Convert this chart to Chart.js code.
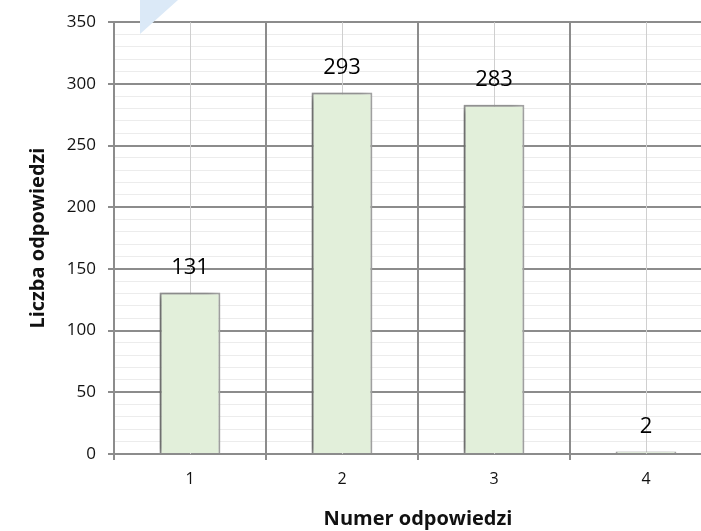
<!DOCTYPE html>
<html>
<head>
<meta charset="utf-8">
<script src="https://cdn.jsdelivr.net/npm/chart.js@4.4.1/dist/chart.umd.min.js"></script>
<style>
  html,body{margin:0;padding:0;background:#fff;overflow:hidden;}
  #wrap{position:relative;width:740px;height:531px;}
</style>
</head>
<body>
<div id="wrap"><canvas id="c" width="740" height="531"></canvas></div>
<script>
// data
const categories = ['1','2','3','4'];
const answerCounts = [131, 293, 283, 2];
const yTicks = [0, 50, 100, 150, 200, 250, 300, 350];

const FONT = '"Open Sans", "Noto Sans", sans-serif';

// light blue triangle in the top-left corner
const cornerMark = {
  id:'cornerMark',
  afterDraw(chart){
    const ctx = chart.ctx;
    ctx.save();
    ctx.fillStyle = '#dbe9f7';
    ctx.beginPath();
    ctx.moveTo(140,0); ctx.lineTo(178,0); ctx.lineTo(140,34); ctx.closePath();
    ctx.fill();
    ctx.restore();
  }
};

// thin lines through category centres + bar shadow + value labels
const extras = {
  id:'extras',
  beforeDatasetsDraw(chart){
    const ctx = chart.ctx, x = chart.scales.x, a = chart.chartArea;
    ctx.save();
    ctx.strokeStyle = '#cfcfcf';
    ctx.lineWidth = 1;
    categories.forEach((c,i)=>{
      const px = Math.round(x.getPixelForValue(i)) + 0.5;
      ctx.beginPath(); ctx.moveTo(px,a.top); ctx.lineTo(px,a.bottom); ctx.stroke();
    });
    ctx.restore();
    ctx.save();
    ctx.shadowColor = 'rgba(0,0,0,0.4)';
    ctx.shadowBlur = 8;
    ctx.shadowOffsetX = -5;
    ctx.shadowOffsetY = 1;
  },
  afterDatasetsDraw(chart){
    const ctx = chart.ctx;
    ctx.restore();
    ctx.save();
    ctx.font = '22px ' + FONT;
    ctx.fillStyle = '#000';
    ctx.textAlign = 'center';
    ctx.textBaseline = 'middle';
    chart.getDatasetMeta(0).data.forEach((bar,i)=>{
      ctx.fillText(String(answerCounts[i]), bar.x, bar.y - 25);
    });
    ctx.restore();
  }
};

new Chart(document.getElementById('c'), {
  type:'bar',
  data:{ labels:categories, datasets:[{
    data:answerCounts,
    backgroundColor:'#e2efda',
    borderColor:'#a3a3a3',
    borderWidth:2,
    categoryPercentage:1,
    barPercentage:0.4
  }]},
  plugins:[extras, cornerMark],
  options:{
    responsive:false,
    animation:false,
    layout:{ padding:{ left:0, right:18, top:22, bottom:0 } },
    plugins:{ legend:{display:false}, tooltip:{enabled:false} },
    scales:{
      x:{
        offset:true,
        grid:{ z:0, offset:true, color:'#8c8c8c', lineWidth:2, tickLength:6, tickColor:'#8c8c8c', drawOnChartArea:true },
        border:{ color:'#8c8c8c', width:2 },
        ticks:{ color:'#111', font:{ family:FONT, size:16 }, padding:10 },
        title:{ display:true, text:'Numer odpowiedzi', color:'#111', font:{ family:FONT, size:20, weight:'bold' }, padding:{top:0, bottom:0} },
        afterFit(s){ s.height = 77; }
      },
      y:{
        min:0, max:350,
        ticks:{ stepSize:10, autoSkip:false, color:'#111', font:{ family:FONT, size:17 }, padding:12,
          callback:(v)=> yTicks.includes(v) ? String(v) : '' },
        grid:{
          color:(c)=> yTicks.includes(c.tick.value) ? '#8c8c8c' : '#ececec',
          lineWidth:(c)=> yTicks.includes(c.tick.value) ? 2 : 1,
          tickColor:(c)=> yTicks.includes(c.tick.value) ? '#8c8c8c' : 'rgba(0,0,0,0)',
          tickLength:6
        },
        border:{ color:'#8c8c8c', width:2 },
        title:{ display:true, text:'Liczba odpowiedzi', color:'#111', font:{ family:FONT, size:20, weight:'bold' }, padding:{top:26, bottom:0} },
        afterFit(s){ s.width = 114; }
      }
    }
  }
});
</script>
</body>
</html>
